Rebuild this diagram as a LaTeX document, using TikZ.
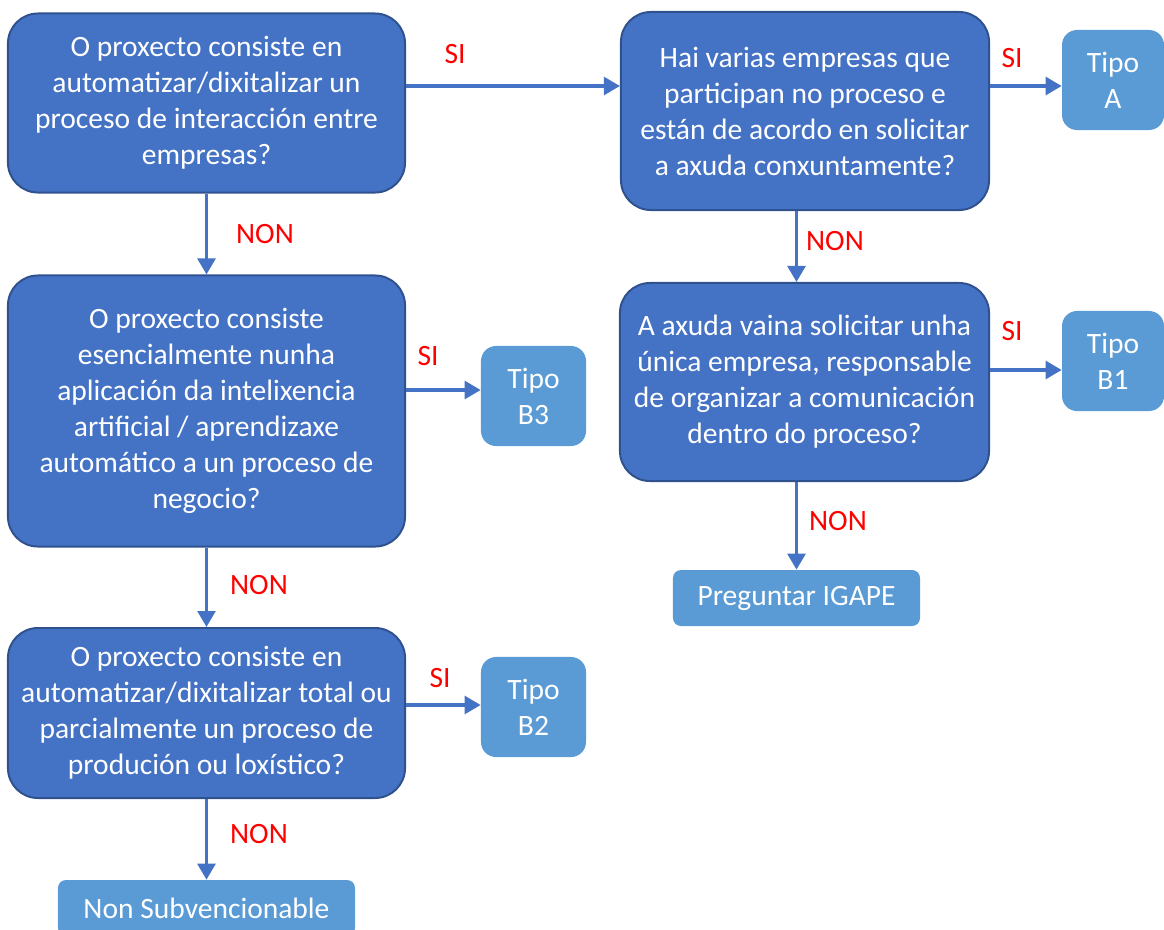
\documentclass[tikz,border=0pt]{standalone}
\usepackage{fontspec}
\setmainfont{Carlito}
\usetikzlibrary{arrows.meta}
\definecolor{qblue}{HTML}{4472C4}
\definecolor{qedge}{HTML}{2F528F}
\definecolor{tblue}{HTML}{5B9BD5}
\begin{document}
\begin{tikzpicture}[x=0.025cm, y=-0.025cm,
    every node/.style={font=\fontsize{21}{25.6}\selectfont},
    question/.style={draw=qedge, line width=1.4pt, fill=qblue, text=white, rounded corners=0.75cm, align=center, inner sep=0pt},
    result/.style={fill=tblue, text=white, rounded corners=0.375cm, align=center, inner sep=0pt, minimum width=2.55cm, minimum height=2.5cm},
    final/.style={fill=tblue, text=white, rounded corners=0.2cm, inner sep=0pt, minimum height=1.4cm},
    arr/.style={-{Triangle[length=0.4cm,width=0.44cm]}, draw=qblue, line width=2.6pt},
    ans/.style={text=red}]
    \useasboundingbox (0,0) rectangle (1164,929);
    % questions
    \node[question, minimum width=9.925cm, minimum height=4.475cm] (q1) at (206.5,103) {O proxecto consiste en\\automatizar/dixitalizar un\\proceso de interacción entre\\empresas?};
    \node[question, minimum width=9.2cm, minimum height=4.95cm] (q2) at (805,111) {Hai varias empresas que\\participan no proceso e\\están de acordo en solicitar\\a axuda conxuntamente?};
    \node[question, minimum width=9.225cm, minimum height=4.95cm] (q3) at (804.5,382) {A axuda vaina solicitar unha\\única empresa, responsable\\de organizar a comunicación\\dentro do proceso?};
    \node[question, minimum width=9.925cm, minimum height=6.775cm] (q4) at (206.5,411) {O proxecto consiste\\esencialmente nunha\\aplicación da intelixencia\\artificial / aprendizaxe\\automático a un proceso de\\negocio?};
    \node[question, minimum width=9.925cm, minimum height=4.25cm] (q5) at (206.5,713) {O proxecto consiste en\\automatizar/dixitalizar total ou\\parcialmente un proceso de\\produción ou loxístico?};
    % results
    \node[result] (tipoA) at (1113,80) {Tipo\\A};
    \node[result] (tipoB1) at (1113,361) {Tipo\\B1};
    \node[result, minimum width=2.625cm] (tipoB3) at (533.5,396) {Tipo\\B3};
    \node[result, minimum width=2.625cm] (tipoB2) at (533.5,707) {Tipo\\B2};
    \node[final, minimum width=6.175cm] (igape) at (796.5,598) {Preguntar IGAPE};
    \node[final, minimum width=7.425cm] (nonsub) at (206.5,908) {Non Subvencionable};
    % connectors
    \draw[arr] ([yshift=0.425cm]q1.east) -- ([yshift=0.425cm]q1.east -| q2.west);
    \draw[arr] ([yshift=0.625cm]q2.east) -- ([yshift=0.625cm]q2.east -| tipoA.west);
    \draw[arr] ([yshift=0.3cm]q3.east) -- ([yshift=0.3cm]q3.east -| tipoB1.west);
    \draw[arr] ([yshift=0.15cm]tipoB3.west -| q4.east) -- ([yshift=0.15cm]tipoB3.west);
    \draw[arr] ([yshift=0.05cm]q5.east |- tipoB2) -- ([yshift=0.05cm]tipoB2.west);
    \draw[arr] (q1.south) -- (q4.north);
    \draw[arr] (q4.south) -- (q5.north);
    \draw[arr] (q5.south) -- (nonsub.north);
    \draw[arr] (q2.south -| igape) -- (q3.north -| igape);
    \draw[arr] (q3.south -| igape) -- (igape.north);
    % answers
    \node[ans] (si1) at (455,54) {SI};
    \node[ans] (si2) at (1012,58) {SI};
    \node[ans] (si3) at (1012,331) {SI};
    \node[ans] (si4) at (428,356) {SI};
    \node[ans] (si5) at (440,678) {SI};
    \node[ans] (non1) at (265,234) {NON};
    \node[ans] (non2) at (835,241) {NON};
    \node[ans] (non3) at (838,521) {NON};
    \node[ans] (non4) at (259,585) {NON};
    \node[ans] (non5) at (259,834) {NON};
\end{tikzpicture}
\end{document}
